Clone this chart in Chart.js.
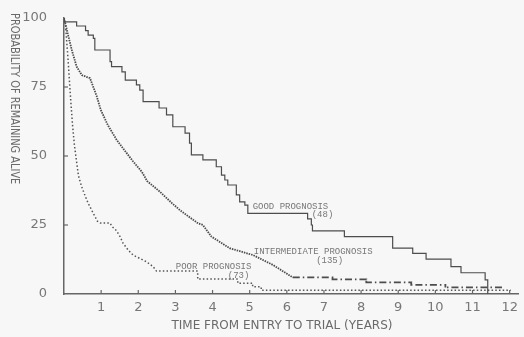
<!DOCTYPE html>
<html>
<head>
<meta charset="utf-8">
<script src="https://cdn.jsdelivr.net/npm/chart.js@4"></script>
<style>
  html, body { margin: 0; padding: 0; background: #f7f7f7; }
  #wrap { width: 524px; height: 337px; }
</style>
</head>
<body>
<div id="wrap"><canvas id="chart"></canvas></div>
<script>
// survival curves (years, % alive)
const goodYears = [0, 0.01, 0.34, 0.58, 0.65, 0.79, 0.83, 1.24, 1.28, 1.56, 1.65, 1.95, 2.04, 2.13, 2.56, 2.76, 2.93, 3.26, 3.38, 3.43, 3.74, 4.10, 4.24, 4.33, 4.41, 4.64, 4.73, 4.87, 4.95, 6.56, 6.66, 6.69, 7.55, 8.85, 9.39, 9.75, 10.42, 10.69, 11.34, 11.41];
const goodAlive = [100, 98.6, 97.1, 95.4, 93.8, 92.6, 88.4, 84.2, 82.4, 80.5, 77.5, 75.8, 73.9, 69.7, 67.4, 64.9, 60.6, 58.3, 54.7, 50.4, 48.6, 46.1, 43.1, 41.3, 39.5, 35.9, 33.4, 32.2, 29.2, 27.2, 25.0, 22.9, 20.8, 16.6, 14.7, 12.6, 9.9, 7.7, 5.1, 0];

// intermediate and poor: dense early part traced as vertices, flat tails as step corners
const interYears = [0, 0.11, 0.21, 0.34, 0.48, 0.70, 0.88, 0.99, 1.18, 1.42, 1.85, 2.10, 2.24, 2.58, 2.90, 3.12, 3.30, 3.61, 3.74, 3.97, 4.46, 5.09, 5.63, 6.16, 7.23, 7.23, 8.14, 8.14, 9.35, 9.35, 10.27, 10.27, 11.85];
const interAlive = [100, 93.8, 88.4, 82.4, 79.3, 78.2, 71.7, 66.7, 61.2, 55.8, 48.2, 44.2, 40.9, 37.1, 33.0, 30.4, 28.6, 25.6, 25.0, 20.8, 16.6, 14.1, 10.5, 6.0, 6.0, 5.3, 5.3, 4.2, 4.2, 3.3, 3.3, 2.4, 2.4];

const poorYears = [0, 0.04, 0.07, 0.11, 0.15, 0.19, 0.23, 0.28, 0.34, 0.39, 0.47, 0.55, 0.65, 0.79, 0.90, 0.98, 1.24, 1.29, 1.41, 1.51, 1.59, 1.73, 1.86, 2.04, 2.22, 2.40, 2.49, 3.60, 3.60, 4.68, 4.68, 5.08, 5.08, 5.31, 5.31, 12.03];
const poorAlive = [100, 97.5, 92.0, 84.8, 76.4, 68.5, 61.2, 54.0, 47.8, 42.8, 39.1, 36.2, 32.9, 29.2, 26.4, 25.7, 25.7, 24.5, 23.0, 20.8, 18.4, 15.9, 14.1, 12.9, 11.7, 9.9, 8.3, 8.3, 5.4, 5.4, 3.9, 3.9, 2.6, 2.6, 1.4, 1.4];

const xTicks = [1, 2, 3, 4, 5, 6, 7, 8, 9, 10, 11, 12];
const yTicks = [0, 25, 50, 75, 100];

const curveLabels = [
  { text: 'GOOD PROGNOSIS', x: 5.08, y: 31.6 },
  { text: '(48)', x: 6.67, y: 28.6 },
  { text: 'INTERMEDIATE PROGNOSIS', x: 5.11, y: 15.3 },
  { text: '(135)', x: 6.79, y: 12.0 },
  { text: 'POOR PROGNOSIS', x: 3.01, y: 9.9 },
  { text: '(73)', x: 4.41, y: 6.6 },
];

function toPoints(xs, ys) {
  return xs.map((x, i) => ({ x: x, y: ys[i] }));
}

const extras = {
  id: 'extras',
  afterDraw(chart) {
    const ctx = chart.ctx;
    const xs = chart.scales.x;
    const ys = chart.scales.y;
    const area = chart.chartArea;
    ctx.save();
    // inward tick marks
    ctx.strokeStyle = '#666';
    ctx.lineWidth = 1.2;
    xTicks.forEach(v => {
      const px = xs.getPixelForValue(v);
      ctx.beginPath();
      ctx.moveTo(px, area.bottom);
      ctx.lineTo(px, area.bottom - 4);
      ctx.stroke();
    });
    yTicks.slice(1, 4).forEach(v => {
      const py = ys.getPixelForValue(v);
      ctx.beginPath();
      ctx.moveTo(area.left, py);
      ctx.lineTo(area.left + 4, py);
      ctx.stroke();
    });

    // curve labels
    ctx.fillStyle = '#777';
    ctx.font = '9px "Liberation Mono", monospace';
    ctx.textAlign = 'left';
    ctx.textBaseline = 'middle';
    curveLabels.forEach(l => {
      ctx.fillText(l.text, xs.getPixelForValue(l.x), ys.getPixelForValue(l.y));
    });

    // axis titles
    ctx.fillStyle = '#6a6a6a';
    ctx.font = '12px "DejaVu Sans", sans-serif';
    ctx.textAlign = 'center';
    ctx.fillText('TIME FROM ENTRY TO TRIAL (YEARS)', 282, 326);

    ctx.translate(14, 13);
    ctx.rotate(Math.PI / 2);
    ctx.scale(0.82, 1);
    ctx.textAlign = 'left';
    ctx.fillText('PROBABILITY OF REMAINING ALIVE', 0, 0);
    ctx.restore();
  }
};

const chart = new Chart(document.getElementById('chart').getContext('2d'), {
  type: 'line',
  data: {
    datasets: [
      {
        label: 'Good prognosis',
        data: toPoints(goodYears, goodAlive),
        borderColor: '#4d4d4d',
        borderWidth: 1.2,
        stepped: true,
        pointRadius: 0,
        fill: false,
      },
      {
        label: 'Intermediate prognosis',
        data: toPoints(interYears, interAlive),
        borderColor: '#4d4d4d',
        borderWidth: 1.8,
        pointRadius: 0,
        tension: 0,
        fill: false,
        segment: {
          borderDash: ctx => ctx.p0.parsed.x >= 6.1 ? [7, 3, 1.5, 3] : [1.5, 1],
        },
      },
      {
        label: 'Poor prognosis',
        data: toPoints(poorYears, poorAlive),
        borderColor: '#555',
        borderWidth: 1.5,
        pointRadius: 0,
        tension: 0,
        fill: false,
        borderDash: [1.5, 2.2],
      },
    ],
  },
  options: {
    responsive: true,
    maintainAspectRatio: false,
    animation: false,
    layout: { padding: { top: 18, right: 4, left: 0, bottom: 0 } },
    plugins: {
      legend: { display: false },
      tooltip: { enabled: false },
    },
    scales: {
      x: {
        type: 'linear',
        min: 0,
        max: 12.25,
        afterBuildTicks: scale => { scale.ticks = xTicks.map(v => ({ value: v })); },
        afterFit: scale => { scale.height = 43; },
        grid: { display: false, drawTicks: false },
        border: { display: true, color: '#666', width: 1.5 },
        ticks: {
          color: '#777',
          font: { family: '"DejaVu Sans", sans-serif', size: 13 },
          padding: 6,
        },
      },
      y: {
        type: 'linear',
        min: 0,
        max: 100,
        afterBuildTicks: scale => { scale.ticks = yTicks.map(v => ({ value: v })); },
        afterFit: scale => {
          scale.width = 64;
          scale.paddingTop = 0;
          scale.paddingBottom = 0;
        },
        grid: { display: false, drawTicks: false },
        border: { display: true, color: '#666', width: 1.5 },
        ticks: {
          color: '#777',
          font: { family: '"DejaVu Sans", sans-serif', size: 13 },
          padding: 17,
        },
      },
    },
  },
  plugins: [extras],
});
</script>
</body>
</html>
